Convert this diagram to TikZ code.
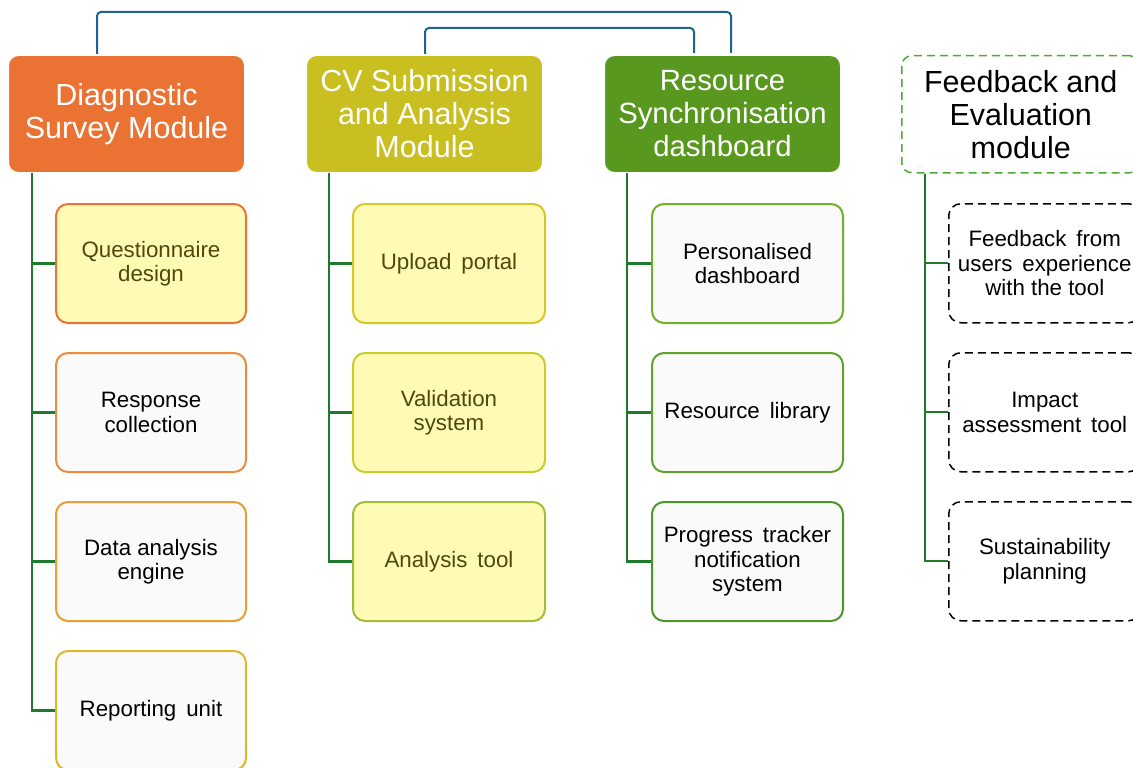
\documentclass[tikz,border=0pt]{standalone}
\usepackage{fontspec}
\setmainfont{Liberation Sans}
\definecolor{hOrange}{HTML}{EA7233}
\definecolor{hCV}{HTML}{C9BF20}
\definecolor{hRes}{HTML}{58981F}
\definecolor{linkBlue}{HTML}{1F6392}
\definecolor{trunkGreen}{HTML}{1F7A2C}
\definecolor{paleYellow}{HTML}{FFFBB4}
\definecolor{oliveText}{HTML}{4B4A0C}
\definecolor{bQ}{HTML}{EB7436}
\definecolor{bR}{HTML}{EC8C3C}
\definecolor{bD}{HTML}{E9A030}
\definecolor{bU}{HTML}{DDB82E}
\definecolor{cU}{HTML}{D6C628}
\definecolor{cV}{HTML}{C8CC2E}
\definecolor{cA}{HTML}{A4BC3A}
\definecolor{gP}{HTML}{72AD2E}
\definecolor{gR}{HTML}{60A22A}
\definecolor{gT}{HTML}{4E952A}
\definecolor{fbGreen}{HTML}{4FA83A}
\begin{document}
\begin{tikzpicture}[x=1pt,y=-1pt,
  header/.style={draw=white,line width=1pt,rounded corners=10pt,anchor=north west,
    minimum width=236pt,minimum height=117pt,inner sep=0pt,align=center,
    font=\fontsize{30.5}{33}\selectfont,text=white},
  child/.style={rounded corners=12pt,anchor=north west,line width=2pt,
    minimum height=119pt,inner sep=0pt,align=center,
    font=\fontsize{22.3}{24.5}\selectfont,fill=white!98!black},
  ychild/.style={child,fill=paleYellow,text=oliveText},
  dchild/.style={child,draw=black,dash pattern=on 8pt off 5pt,line width=1.5pt,fill=none},
  trunk/.style={draw=trunkGreen,line width=2.2pt},
  link/.style={draw=linkBlue,line width=2pt,rounded corners=4pt}
]
\useasboundingbox (0,0) rectangle (1133,768);
\clip (0,0) rectangle (1133,768);

% headers
\node[header,fill=hOrange] (diag) at (8,55) {Diagnostic\\Survey Module};
\node[header,fill=hCV] (cv) at (306,55) {CV Submission\\and Analysis\\Module};
\node[header,fill=hRes,font=\fontsize{29.3}{33}\selectfont] (res) at (604,55) {Resource\\Synchronisation\\dashboard};
\node[header,fill=white,text=black,draw=fbGreen,line width=1.5pt,dash pattern=on 8pt off 5pt,minimum width=238pt] (fb) at (901,55) {Feedback and\\Evaluation\\module};

% column 1
\node[ychild,draw=bQ,minimum width=190pt] (q) at (55,203) {Questionnaire\\design};
\node[child,draw=bR,minimum width=190pt] (rc) at (55,352) {Response\\collection};
\node[child,draw=bD,minimum width=190pt] (da) at (55,501) {Data analysis\\engine};
\node[child,draw=bU,minimum width=190pt] (ru) at (55,650) {Reporting\, unit};

% column 2
\node[ychild,draw=cU,minimum width=192pt] (up) at (352,203) {Upload\, portal};
\node[ychild,draw=cV,minimum width=192pt] (vs) at (352,352) {Validation\\system};
\node[ychild,draw=cA,minimum width=192pt] (at) at (352,501) {Analysis\, tool};

% column 3
\node[child,draw=gP,minimum width=191pt] (pd) at (651,203) {Personalised\\dashboard};
\node[child,draw=gR,minimum width=191pt] (rl) at (651,352) {Resource\, library};
\node[child,draw=gT,minimum width=191pt] (pt) at (651,501) {Progress\, tracker\\notification\\system};

% column 4
\node[dchild,minimum width=192pt] (fu) at (948,203) {Feedback\, from\\users\, experience\\with the tool};
\node[dchild,minimum width=192pt] (ia) at (948,352) {Impact\\assessment\, tool};
\node[dchild,minimum width=192pt] (sp) at (948,501) {Sustainability\\planning};

% trunks
\foreach \c in {q,rc,da,ru} \draw[trunk] ([xshift=24pt]diag.south west) |- (\c.west);
\foreach \c in {up,vs,at} \draw[trunk] ([xshift=23pt]cv.south west) |- (\c.west);
\foreach \c in {pd,rl,pt} \draw[trunk] ([xshift=23pt]res.south west) |- (\c.west);
\foreach \c in {fu,ia,sp} \draw[trunk] ([xshift=24pt]fb.south west) |- (\c.west);

% top links
\coordinate (t1) at (400,12);
\coordinate (t2) at (560,28);
\draw[link] ([xshift=89pt,yshift=1pt]diag.north west) |- (t1) -| ([xshift=127pt,yshift=2pt]res.north west);
\draw[link] ([xshift=119pt,yshift=1pt]cv.north west) |- (t2) -| ([xshift=90pt,yshift=2pt]res.north west);
\end{tikzpicture}
\end{document}
